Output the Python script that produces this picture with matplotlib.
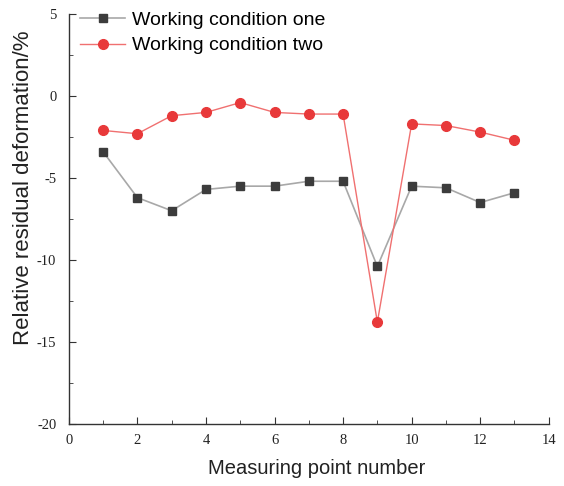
import matplotlib.pyplot as plt
from matplotlib.ticker import MultipleLocator

plt.rcParams['axes.unicode_minus'] = False

# measured residual deformation at each measuring point
points = list(range(1, 14))
cond_one = [-3.4, -6.2, -7.0, -5.7, -5.5, -5.5, -5.2, -5.2, -10.4, -5.5, -5.6, -6.5, -5.9]
cond_two = [-2.1, -2.3, -1.2, -1.0, -0.4, -1.0, -1.1, -1.1, -13.8, -1.7, -1.8, -2.2, -2.7]

fig = plt.figure(figsize=(5.64, 4.86), dpi=100)
ax = fig.add_axes([0.122, 0.128, 0.851, 0.843])

ax.plot(points, cond_one, color='#a8a8a8', lw=1.2, marker='s', ms=6,
        mfc='#3c3c3c', mec='#3c3c3c', label='Working condition one')
ax.plot(points, cond_two, color='#f07070', lw=1.0, marker='o', ms=7,
        mfc='#e8393a', mec='#e8393a', label='Working condition two')

ax.set_xlim(0, 14)
ax.set_ylim(-20, 5)
ax.xaxis.set_major_locator(MultipleLocator(2))
ax.xaxis.set_minor_locator(MultipleLocator(1))
ax.yaxis.set_major_locator(MultipleLocator(5))
ax.yaxis.set_minor_locator(MultipleLocator(2.5))
ax.tick_params(which='both', direction='in', colors='#333333', labelcolor='#222222')
ax.tick_params(which='major', length=5, labelsize=10.5)
ax.tick_params(which='minor', length=3)
for lab in ax.get_xticklabels() + ax.get_yticklabels():
    lab.set_family('Liberation Serif')
ax.tick_params(axis='x', pad=7)
ax.tick_params(axis='y', pad=9)

for s in ['top', 'right']:
    ax.spines[s].set_visible(False)
for s in ['left', 'bottom']:
    ax.spines[s].set_color('#333333')
    ax.spines[s].set_linewidth(1.0)

ax.set_xlabel('Measuring point number', family='Liberation Sans', fontsize=14.5,
              color='#222222')
ax.set_ylabel('Relative residual deformation/%', family='Liberation Sans', fontsize=16,
              color='#222222')
ax.xaxis.set_label_coords(0.516, -0.085)
ax.yaxis.set_label_coords(-0.072, 0.576)

ax.legend(loc='upper left', bbox_to_anchor=(0.0, 1.035), frameon=False,
          prop={'family': 'Liberation Sans', 'size': 14},
          handlelength=2.3, handletextpad=0.35, labelspacing=0.4, borderaxespad=0.2)

fig.savefig('out.png', dpi=100)
